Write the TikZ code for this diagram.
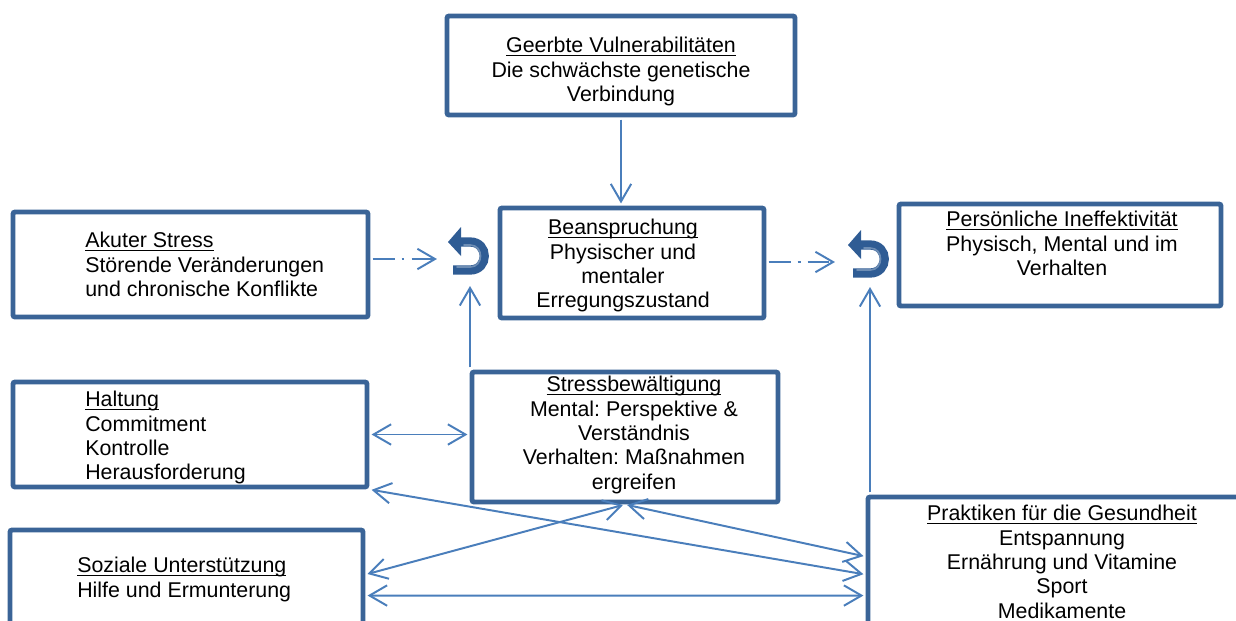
\documentclass[tikz,border=0pt]{standalone}
\usepackage{fontspec}
\setmainfont{Liberation Sans}
\usetikzlibrary{arrows.meta,calc,fit}
\definecolor{rahmen}{HTML}{3A6497}
\definecolor{linie}{HTML}{4A7EBB}
\definecolor{wendeblau}{HTML}{2F5C94}
\newcommand{\titel}[1]{\setbox0\hbox{#1}\rlap{\rule[-2.2pt]{\wd0}{0.9pt}}\box0}
\newcommand{\wende}[3]{\coordinate (#1) at (#2,#3);
    \begin{scope}[shift={(#2,#3)}]
        \draw[wendeblau, line width=6.6pt] (-17,11) -- (0,11) .. controls (19,11) and (19,-17) .. (0,-17) -- (-10,-17);
        \fill[wendeblau] (-9,-32) -- (-22,-17) -- (-9,-3) -- cycle;
        \draw[white, opacity=.3, line width=1.2pt, line cap=round] (-13,8) -- (0,8) .. controls (14,8) and (14,-14) .. (0,-14) -- (-6,-14);
    \end{scope}}
\tikzset{
    kasten/.style={draw=rahmen, line width=3.5pt, rounded corners=1.5pt, inner sep=0pt},
    schrift/.style={font=\fontsize{15.2pt}{17.3pt}\selectfont\frenchspacing, inner sep=0pt, align=center},
    pfeil/.style={draw=linie, line width=1.4pt, shorten <=1.5pt, shorten >=1.5pt, >={Straight Barb[length=12.5pt,width=14.5pt]}},
    strichpunkt/.style={pfeil, ->, dash pattern=on 15.6pt off 5pt on 2.1pt off 5pt}
}
\begin{document}
\begin{tikzpicture}[x=0.025cm, y=-0.025cm]
    \useasboundingbox (0,0) rectangle (1236,620);
    \clip (0,0) rectangle (1236,620);

    \node[kasten, fit={(447,16) (795,115)}] (geerbt) {};
    \node[kasten, fit={(13,212) (368,317)}] (akut) {};
    \node[kasten, fit={(500,208) (764,318)}] (beansp) {};
    \node[kasten, fit={(899,204) (1221,306)}] (ineff) {};
    \node[kasten, fit={(13,382) (367,487)}] (haltung) {};
    \node[kasten, fit={(472,372) (778,502)}] (bewaelt) {};
    \node[kasten, fit={(10,530) (363,660)}] (sozial) {};
    \node[kasten, fit={(868,497) (1260,660)}] (praxis) {};

    \node[schrift, anchor=north] (geerbt-t) at (621,37) {\titel{Geerbte Vulnerabilitäten}\\Die schwächste genetische\\Verbindung};
    \node[schrift, anchor=north west, align=left] (akut-t) at (85,232) {\titel{Akuter Stress}\\Störende Veränderungen\\und chronische Konflikte};
    \node[schrift, anchor=north] (beansp-t) at (623,219) {\titel{Beanspruchung}\\Physischer und\\mentaler\\Erregungszustand};
    \node[schrift, anchor=north] (ineff-t) at (1062,211) {\titel{Persönliche Ineffektivität}\\Physisch, Mental und im\\Verhalten};
    \node[schrift, anchor=north west, align=left] (haltung-t) at (85,391) {\titel{Haltung}\\Commitment\\Kontrolle\\Herausforderung};
    \node[schrift, anchor=north] (bewaelt-t) at (634,376) {\titel{Stressbewältigung}\\Mental: Perspektive \&\\Verständnis\\Verhalten: Maßnahmen\\ergreifen};
    \node[schrift, anchor=north west, align=left] (sozial-t) at (77,557) {\titel{Soziale Unterstützung}\\Hilfe und Ermunterung};
    \node[schrift, anchor=north] (praxis-t) at (1062,505) {\titel{Praktiken für die Gesundheit}\\Entspannung\\Ernährung und Vitamine\\Sport\\Medikamente};

    \wende{w1}{470}{259}
    \wende{w2}{870}{262}

    \draw[pfeil, ->] (geerbt.south) -- (geerbt.south |- beansp.north);
    \draw[strichpunkt, shorten >=23.5pt] (akut.east |- w1) -- (w1);
    \draw[strichpunkt, shorten >=24.9pt] (beansp.east |- w2) -- (w2);
    \draw[pfeil, ->, shorten >=19.2pt] (w1 |- bewaelt.north) -- (w1);
    \draw[pfeil, ->, shorten >=17.8pt] (w2 |- praxis.north) -- (w2);
    \draw[pfeil, <->] (haltung.east) -- (bewaelt.west |- haltung.east);
    \draw[pfeil, <->] (haltung.south east) -- ($(praxis.north west)+(0,80)$);
    \draw[pfeil, <->] (bewaelt.south) -- ($(sozial.north east)+(0,47)$);
    \draw[pfeil, <->] (bewaelt.south) -- ($(praxis.north west)+(0,62)$);
    \draw[pfeil, <->] ($(sozial.north east)+(0,68)$) -- ($(praxis.north west)+(0,101)$);
\end{tikzpicture}
\end{document}
